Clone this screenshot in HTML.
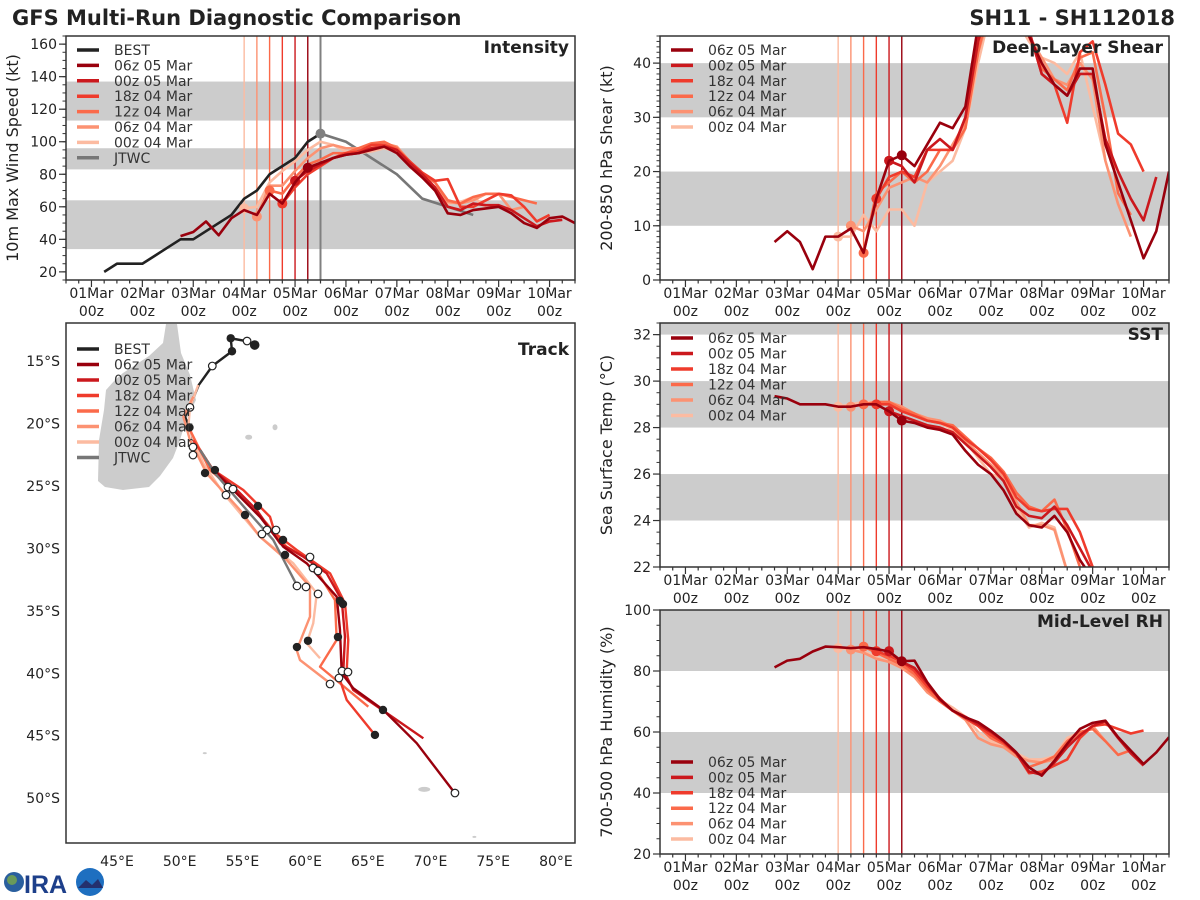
<!DOCTYPE html>
<html><head><meta charset="utf-8"><style>
html,body{margin:0;padding:0;background:#fff;}
svg{display:block;font-family:"DejaVu Sans","Liberation Sans",sans-serif;}
</style></head><body>
<svg id="fig" width="1200" height="900" viewBox="0 0 1200 900" xmlns="http://www.w3.org/2000/svg">
<text x="12" y="25" font-size="21" font-weight="bold" fill="#222">GFS Multi-Run Diagnostic Comparison</text>
<text x="1175" y="25" font-size="21" font-weight="bold" fill="#222" text-anchor="end">SH11 - SH112018</text>
<polygon fill="#cccccc" points="166,324 177,324 181,353 190,375 196,400 186,420 180,440 173,458 160,476 149,487 123,490 105,487 98,481 99,440 104,410 106,390 115,380 123,373 149,356 163,343"/>
<g>
<circle cx="14" cy="882" r="10" fill="#2a5f9e"/><circle cx="12" cy="880" r="5" fill="#6a9a5a"/>
<text x="24" y="893" font-size="25" font-weight="bold" fill="#1d3f8a" font-family="Liberation Sans, sans-serif">IRA</text>
<circle cx="90" cy="882" r="14" fill="#1e6fc0"/><path d="M78 888 L86 880 L92 885 L98 879 L103 888 Z" fill="#24306e"/>
</g>
</svg>
<script>
// ---------- DATA ----------
const runNames = ["06z 05 Mar","00z 05 Mar","18z 04 Mar","12z 04 Mar","06z 04 Mar","00z 04 Mar"];
const runInit = [4.25,4.0,3.75,3.5,3.25,3.0];
const dayLabels = ["01Mar","02Mar","03Mar","04Mar","05Mar","06Mar","07Mar","08Mar","09Mar","10Mar"];
// intensity (kt)
const bestStart = 0.25;
const bestVmax = [20,25,25,25,30,35,40,40,45,50,55,65,70,80,85,90,100,105];
const jtwcTimes = [4.5,5.0,5.5,6.0,6.5,7.0,7.5];
const jtwcVmax = [105,100,90,80,65,60,55];
const int06z05Start = 1.75;
const int06z05 = [42,44.5,51,42.5,53,58,55,68,62,75,84,87,90,92,93,95,97,93,85,78,70,56,55,58,59,60,56,50,47,53,54,50];
const int00z05 = [76,82,86,90,92,93,96,97,95,87,80,72,60,58,62,61,61,58,53,48,51,52];
const int18z04 = [62,72,80,85,90,93,94,98,98,95,88,81,76,77,60,60,64,68,67,60,51,55];
const int12z04 = [70,68,78,86,89,93,93,96,99,100,96,88,80,75,64,62,66,68,68,66,64,62];
const int06z04 = [54,73,73,82,90,96,98,96,96,97,99,97,88,78,72,63,62,64,68,68,58,60];
const int00z04 = [59,60,75,82,88,95,100,98,94,93,94,96,94,85,78,70,62,63,66,60];
// shear (kt)
const shr06z05Start = 1.75;
const shr06z05 = [7,9,7,2,8,8,9.5,5,15,22,23,21,25,29,28,32,47,55,55,52,45,40,36,34,39,39,25,18,11,4,9,20];
const shr00z05 = [22,21,18,24,26,24,30,44,52,55,52,46,38,36,34,38,38,26,20,15,11,19];
const shr18z04 = [15,19,20,19,24,24,24,30,45,52,55,50,46,38,36,29,42,44,36,27,25,20];
const shr12z04 = [5,16,18,20,18,20,24,24,28,42,52,55,50,45,39,37,35,41,42,30,16,12];
const shr06z04 = [10,9,13,17,18,19,18,21,25,29,42,50,54,50,45,41,37,36,40,37,22,14,8];
const shr00z04 = [8,8,12,9,13,13,10,18,20,22,28,40,50,54,48,44,41,40,38,42,32,22];
// SST (C)
const sst06z05Start = 1.75;
const sst06z05 = [29.35,29.25,29.0,29.0,29.0,28.9,28.9,29.0,29.0,28.7,28.3,28.2,28.0,27.9,27.7,27.0,26.4,26.0,25.3,24.3,23.8,23.7,24.2,23.5,22.3,21.5];
const sst00z05 = [28.7,28.5,28.3,28.1,28.0,27.8,27.3,26.8,26.3,25.7,24.6,24.2,24.1,24.6,23.8,22.8,21.8];
const sst18z04 = [29.0,29.0,28.7,28.5,28.3,28.2,28.0,27.5,27.1,26.6,26.0,25.0,24.5,24.4,24.5,24.5,23.5,22.0];
const sst12z04 = [29.0,29.1,29.1,28.8,28.6,28.3,28.2,28.1,27.6,27.1,26.7,26.1,25.2,24.6,24.4,24.9,23.6,22.0];
const sst06z04 = [28.9,29.0,29.1,29.1,28.9,28.6,28.4,28.3,28.0,27.4,26.9,26.4,25.9,24.8,23.8,23.8,23.6,21.8];
const sst00z04 = [28.9,29.0,29.1,29.1,29.0,28.8,28.6,28.4,28.2,27.9,27.4,26.7,26.0,25.8,24.5,23.7,23.9,23.7,21.8];
// RH (%)
const rh06z05Start = 1.75;
const rh06z05 = [81.2,83.4,84,86.4,88,87.8,87.5,87.8,87.2,86.4,83.2,83.4,76.3,70.8,67,64.8,63.2,60.4,57.2,53.3,48.4,45.7,50.6,56.1,61,63,63.7,58.3,53.9,49.5,53.3,58.3];
const rh00z05 = [86.5,83,81,76,70.5,67,65,62.5,60,57,53,47,46,50,55,59,62,63.5,58,53,49];
const rh18z04 = [86.5,85,83,80,75,71,67,64.5,62,59,56.5,53,46.5,47,49,51,58,62,62.5,61,59.5,60.5];
const rh12z04 = [88,86,84,82,79,74,70,67,64.5,62,58,56,53,48.5,50,52,57,60,61,57,52.5,54];
const rh06z04 = [87,86,84,83,81,78,73,70,67,64,58,56,55,52,50.5,50,51,56,59,62,57];
const rh00z04 = [87.5,87,86.5,84.5,83,81,78,74,70.5,68,65,60,57,55,53,51,51,52,58,60];
// Track (lon E, lat S)
const bestLon = [55.98,55.39,54.07,54.17,52.6,51.52,51.08,50.82,50.42,50.77,51.08,51.67,52.66];
const bestLat = [13.72,13.42,13.18,14.22,15.4,16.92,17.99,18.71,19.46,20.26,21.33,22.18,23.73];
const trk06z05Lon = [52.68,54.81,56.4,58.26,60.13,62.52,62.78,62.92,63.84,66.24,68.9,71.95];
const trk06z05Lat = [23.73,25.86,27.47,29.87,31.2,33.87,36.52,40.0,41.2,42.94,45.6,49.61];
const trk00z05Lon = [52.42,54.55,56.14,58.0,59.86,61.72,62.92,63.18,63.05,63.84,69.43];
const trk00z05Lat = [23.46,25.33,26.93,29.6,30.67,32.0,34.14,37.07,39.74,41.34,45.21];
const trk18z04Lon = [51.08,52.68,55.07,57.2,57.6,59.33,61.99,63.18,63.44,63.32,62.78,63.32,65.57];
const trk18z04Lat = [21.33,23.73,25.33,27.47,28.8,30.13,32.0,34.4,37.34,39.74,40.54,42.14,44.94];
const trk12z04Lon = [50.82,52.42,54.27,56.94,58.53,60.39,62.38,62.52,61.19,65.04];
const trk12z04Lat = [20.52,23.73,25.33,28.0,29.87,30.93,34.13,37.33,39.48,42.68];
const trk06z04Lon = [51.08,50.29,50.82,52.15,54.81,56.4,58.53,60.39,60.39,59.33,59.59,61.99];
const trk06z04Lat = [17.86,19.46,21.33,24.0,26.93,29.07,30.93,33.07,35.47,38.14,38.94,40.8];
const trk00z04Lon = [51.48,50.82,50.69,51.88,53.48,56.4,59.06,60.93,60.65,60.13,61.19];
const trk00z04Lat = [16.92,18.71,20.26,23.19,25.59,29.07,31.2,33.6,36.0,37.6,38.8];
const jtwcLon = [51.62,52.81,55.34,57.46,59.33];
const jtwcLat = [22.13,23.99,26.93,29.33,32.93];
const dotFilledLon = [54.07,54.17,50.78,52.02,52.81,55.21,56.24,58.24,58.4,62.78,63.02,62.62,59.35,60.23,66.21,65.57];
const dotFilledLat = [13.18,14.22,20.32,23.97,23.73,27.33,26.61,29.33,30.53,34.2,34.46,37.1,37.9,37.4,42.94,44.94];
const dotOpenLon = [55.37,52.6,50.82,51.06,51.06,53.85,54.25,53.69,56.96,56.56,57.68,60.39,60.63,61.03,59.35,60.07,61.03,62.94,62.7,63.42,61.99,71.95];
const dotOpenLat = [13.4,15.4,18.71,21.89,22.53,25.09,25.25,25.73,28.53,28.85,28.53,30.69,31.57,31.81,33.01,33.09,33.65,39.82,40.38,39.9,40.86,49.59];

// ---------- RENDER ----------
const NS = "http://www.w3.org/2000/svg";
const svg = document.getElementById("fig");
const colors = ["#99000d","#cb181d","#ef3b2c","#fb6a4a","#fc9272","#fcbba1"];
function mk(tag, attrs, parent){ const e=document.createElementNS(NS,tag); for(const k in attrs) e.setAttribute(k,attrs[k]); (parent||svg).appendChild(e); return e; }
function txt(x,y,s,size,anchor,parent,extra){ const t=mk("text",Object.assign({x:x,y:y,"font-size":size,"text-anchor":anchor||"start",fill:"#222"},extra||{}),parent); t.textContent=s; return t; }

function timePanel(cfg){
  const g = mk("g",{});
  
  
  const X = t => cfg.x0 + (t+0.5)*(cfg.x1-cfg.x0)/10;
  const Y = v => cfg.y1 - (v-cfg.ymin)*(cfg.y1-cfg.y0)/(cfg.ymax-cfg.ymin);
  const cid = "clip-"+cfg.name;
  const cp = mk("clipPath",{id:cid},g); mk("rect",{x:cfg.x0,y:cfg.y0,width:cfg.x1-cfg.x0,height:cfg.y1-cfg.y0},cp);
  const inner = mk("g",{"clip-path":"url(#"+cid+")"},g);
  cfg.bands.forEach(b=>{ const r=mk("rect",{x:cfg.x0,y:Y(b[1]),width:cfg.x1-cfg.x0,height:Y(b[0])-Y(b[1]),fill:"#cccccc"},inner);
      });
  runInit.forEach((t,i)=>{ const l=mk("line",{x1:X(t),x2:X(t),y1:cfg.y0,y2:cfg.y1,stroke:colors[i],"stroke-width":1.4},inner);
      });
  if(cfg.jtwcLine!==undefined){ const l=mk("line",{x1:X(cfg.jtwcLine),x2:X(cfg.jtwcLine),y1:cfg.y0,y2:cfg.y1,stroke:"#808080","stroke-width":2},inner);
      }
  const order = [5,4,3,2,1,0];
  if(cfg.best){ const pts=cfg.best.vals.map((v,k)=>X(cfg.best.start+k*0.25)+","+Y(v)).join(" ");
    const p=mk("polyline",{points:pts,fill:"none",stroke:"#222","stroke-width":2.6,"stroke-linejoin":"round"},inner);
      }
  if(cfg.jtwc){ const pts=cfg.jtwc.vals.map((v,k)=>X(cfg.jtwc.times[k])+","+Y(v)).join(" ");
    const p=mk("polyline",{points:pts,fill:"none",stroke:"#777","stroke-width":2.6},inner);
     
    const c=mk("circle",{cx:X(cfg.jtwc.times[0]),cy:Y(cfg.jtwc.vals[0]),r:5,fill:"#808080"},inner);
      }
  order.forEach(i=>{ const s=cfg.series[i]; const start=s.start;
    const pts=s.vals.map((v,k)=>X(start+k*0.25)+","+Y(v)).join(" ");
    const p=mk("polyline",{points:pts,fill:"none",stroke:colors[i],"stroke-width":2.6,"stroke-linejoin":"round"},inner);
    
    
    const k=Math.round((runInit[i]-start)/0.25);
    const c=mk("circle",{cx:X(runInit[i]),cy:Y(s.vals[k]),r:5,fill:colors[i]},inner);
      });
  const fr=mk("rect",{x:cfg.x0,y:cfg.y0,width:cfg.x1-cfg.x0,height:cfg.y1-cfg.y0,fill:"none",stroke:"#333","stroke-width":1.5},g);
   
  for(let t=-0.5;t<=9.5001;t+=0.25){ const maj=Math.abs(t-Math.round(t))<1e-6;
    mk("line",{x1:X(t),x2:X(t),y1:cfg.y1,y2:cfg.y1+(maj?7:3.5),stroke:"#333","stroke-width":1.2},g); }
  dayLabels.forEach((d,k)=>{ const a=txt(X(k),cfg.y1+18,d,14,"middle",g);  
    const b=txt(X(k),cfg.y1+36,"00z",14,"middle",g);   });
  for(let v=cfg.ymin; v<=cfg.ymax+1e-6; v+=cfg.minor){
    mk("line",{x1:cfg.x0,x2:cfg.x0-3.5,y1:Y(v),y2:Y(v),stroke:"#333","stroke-width":1},g); }
  cfg.yticks.forEach(v=>{ mk("line",{x1:cfg.x0,x2:cfg.x0-7,y1:Y(v),y2:Y(v),stroke:"#333","stroke-width":1.2},g);
    const t=txt(cfg.x0-9,Y(v)+5,String(v),14,"end",g);   });
  const cy=(cfg.y0+cfg.y1)/2, lx=cfg.x0-48;
  const yl=txt(lx,cy,cfg.ylabel,16,"middle",g,{transform:"rotate(-90 "+lx+" "+cy+")"});
   
  const tt=txt(cfg.x1-6,cfg.y0+17,cfg.title,17,"end",g,{"font-weight":"bold"});
   
  legend(g,cfg.x0+11,cfg.legY,cfg.legStep,cfg.legBest);
}
function legend(g,x,y0,step,withBest){
  const items=[]; if(withBest) items.push(["BEST","#222"]);
  runNames.forEach((n,i)=>items.push([n,colors[i]])); if(withBest) items.push(["JTWC","#777"]);
  const lg=mk("g",{},g);  
  items.forEach((it,k)=>{ const y=y0+k*step;
    const e=mk("g",{},lg);  
    mk("line",{x1:x,x2:x+22,y1:y,y2:y,stroke:it[1],"stroke-width":3.5},e);
    txt(x+37,y+5,it[0],14,"start",e,{fill:"#333"}); });
}

timePanel({name:"intensity-panel",x0:66,x1:575,y0:36,y1:280,ymin:15,ymax:165,yticks:[20,40,60,80,100,120,140,160],minor:5,
  bands:[[34,64],[83,96],[113,137]],ylabel:"10m Max Wind Speed (kt)",title:"Intensity",legY:50,legStep:15.4,legBest:true,jtwcLine:4.5,
  best:{start:bestStart,vals:bestVmax},jtwc:{times:jtwcTimes,vals:jtwcVmax},
  series:[{start:int06z05Start,vals:int06z05},{start:4.0,vals:int00z05},{start:3.75,vals:int18z04},{start:3.5,vals:int12z04},{start:3.25,vals:int06z04},{start:3.0,vals:int00z04}]});
timePanel({name:"shear-panel",x0:660,x1:1169,y0:36,y1:280,ymin:0,ymax:45,yticks:[0,10,20,30,40],minor:1,
  bands:[[10,20],[30,40]],ylabel:"200-850 hPa Shear (kt)",title:"Deep-Layer Shear",legY:50,legStep:15.4,legBest:false,
  series:[{start:shr06z05Start,vals:shr06z05},{start:4.0,vals:shr00z05},{start:3.75,vals:shr18z04},{start:3.5,vals:shr12z04},{start:3.25,vals:shr06z04},{start:3.0,vals:shr00z04}]});
timePanel({name:"sst-panel",x0:660,x1:1169,y0:323,y1:567,ymin:22,ymax:32.5,yticks:[22,24,26,28,30,32],minor:0.5,
  bands:[[24,26],[28,30],[32,34]],ylabel:"Sea Surface Temp (°C)",title:"SST",legY:338,legStep:15.5,legBest:false,
  series:[{start:sst06z05Start,vals:sst06z05},{start:4.0,vals:sst00z05},{start:3.75,vals:sst18z04},{start:3.5,vals:sst12z04},{start:3.25,vals:sst06z04},{start:3.0,vals:sst00z04}]});
timePanel({name:"rh-panel",x0:660,x1:1169,y0:610,y1:854,ymin:20,ymax:100,yticks:[20,40,60,80,100],minor:5,
  bands:[[40,60],[80,100]],ylabel:"700-500 hPa Humidity (%)",title:"Mid-Level RH",legY:762,legStep:15.4,legBest:false,
  series:[{start:rh06z05Start,vals:rh06z05},{start:4.0,vals:rh00z05},{start:3.75,vals:rh18z04},{start:3.5,vals:rh12z04},{start:3.25,vals:rh06z04},{start:3.0,vals:rh00z04}]});

// ---------- TRACK ----------
(function(){
  const x0=66,x1=575,y0=323,y1=843;
  const LX = lon => 117 + (lon-45)*12.54;
  const LY = lat => 361 + (lat-15)*12.49;
  const g=mk("g",{});  
  const cp=mk("clipPath",{id:"clip-track"},g); mk("rect",{x:x0,y:y0,width:x1-x0,height:y1-y0},cp);
  const inner=mk("g",{"clip-path":"url(#clip-track)"},g);
  [[55.5,21.1,3.5,2.5],[57.6,20.3,2.5,3],[69.5,49.3,6,2.5],[52,46.4,2,1],[73.5,53.1,2,1]].forEach(a=>{
    const e=mk("ellipse",{cx:LX(a[0]),cy:LY(a[1]),rx:a[2],ry:a[3],fill:"#cccccc"},inner);
      });
  const tracks=[[trk00z04Lon,trk00z04Lat,5],[trk06z04Lon,trk06z04Lat,4],[trk12z04Lon,trk12z04Lat,3],[trk18z04Lon,trk18z04Lat,2],[trk00z05Lon,trk00z05Lat,1],[trk06z05Lon,trk06z05Lat,0]];
  const bl=mk("polyline",{points:bestLon.map((l,k)=>LX(l)+","+LY(bestLat[k])).join(" "),fill:"none",stroke:"#222","stroke-width":2.4},inner);
   
  tracks.forEach(tr=>{ const p=mk("polyline",{points:tr[0].map((l,k)=>LX(l)+","+LY(tr[1][k])).join(" "),fill:"none",stroke:colors[tr[2]],"stroke-width":2.4,"stroke-linejoin":"round"},inner);
      });
  const jl=mk("polyline",{points:jtwcLon.map((l,k)=>LX(l)+","+LY(jtwcLat[k])).join(" "),fill:"none",stroke:"#777","stroke-width":2.4},inner);
   
  dotOpenLon.forEach((l,k)=>{ const c=mk("circle",{cx:LX(l),cy:LY(dotOpenLat[k]),r:3.8,fill:"#fff",stroke:"#222","stroke-width":1.2},inner);
      });
  dotFilledLon.forEach((l,k)=>{ const c=mk("circle",{cx:LX(l),cy:LY(dotFilledLat[k]),r:4.2,fill:"#222"},inner);
      });
  const big=mk("circle",{cx:LX(55.98),cy:LY(13.72),r:4.8,fill:"#222"},inner);  
  const fr=mk("rect",{x:x0,y:y0,width:x1-x0,height:y1-y0,fill:"none",stroke:"#333","stroke-width":1.5},g);
   
  [45,50,55,60,65,70,75,80].forEach(l=>{ const t=txt(LX(l),866,l+"°E",14,"middle",g);   });
  [15,20,25,30,35,40,45,50].forEach(l=>{ const t=txt(60,LY(l)+5,l+"°S",14,"end",g);   });
  const tt=txt(569,355,"Track",17,"end",g,{"font-weight":"bold"});  
  legend(g,77,349,15.5,true);
})();
</script>
</body></html>
